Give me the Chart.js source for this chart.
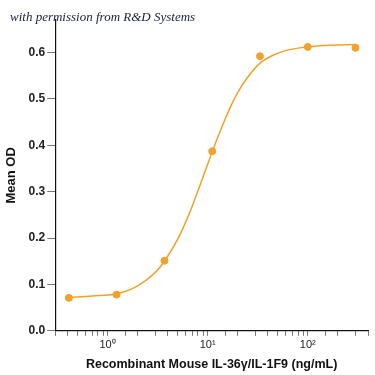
<!DOCTYPE html>
<html>
<head>
<meta charset="utf-8">
<script src="https://cdn.jsdelivr.net/npm/chart.js@4/dist/chart.umd.min.js"></script>
<style>
  html, body { margin: 0; padding: 0; background: #fff; }
  #wrap { width: 375px; height: 375px; }
</style>
</head>
<body>
<div id="wrap"><canvas id="odChart" width="375" height="375"></canvas></div>
<script>
// measured points (ng/mL vs mean OD)
const conc = [0.41, 1.23, 3.7, 11.1, 33.3, 100, 300];
const meanOD = [0.071, 0.078, 0.151, 0.387, 0.592, 0.612, 0.610];

// fitted curve
const fitX = [0.41, 0.7, 1.23, 2, 3, 3.7, 5, 6.5, 8, 10, 11.1, 12.5, 15, 16.6, 20, 25, 33, 45, 60, 100, 150, 300];
const fitY = [0.072, 0.075, 0.080, 0.097, 0.126, 0.150, 0.197, 0.251, 0.302, 0.359, 0.386, 0.415, 0.457, 0.479, 0.514, 0.546, 0.576, 0.594, 0.604, 0.612, 0.615, 0.617];

const xTickLabels = { 1: '10\u2070', 10: '10\u00b9', 100: '10\u00b2' };
const yTicks = [0, 0.1, 0.2, 0.3, 0.4, 0.5, 0.6];

const orange = '#f2a22a';
const font = "'Liberation Sans', Arial, sans-serif";

// attribution line top left
const creditLine = {
  id: 'creditLine',
  afterDraw(chart) {
    const c = chart.ctx;
    c.save();
    c.font = "italic 13px 'Liberation Serif', serif";
    c.fillStyle = '#1b1f3b';
    c.textBaseline = 'alphabetic';
    c.fillText('with permission from R&D Systems', 10, 21);
    c.restore();
  }
};

const ctx = document.getElementById('odChart').getContext('2d');
const chart = new Chart(ctx, {
  type: 'scatter',
  data: {
    datasets: [
      {
        label: 'fit',
        data: fitX.map((x, i) => ({ x: x, y: fitY[i] })),
        showLine: true,
        borderColor: orange,
        borderWidth: 1.5,
        pointRadius: 0,
        cubicInterpolationMode: 'monotone',
        fill: false
      },
      {
        label: 'Mean OD',
        data: conc.map((x, i) => ({ x: x, y: meanOD[i] })),
        showLine: false,
        backgroundColor: orange,
        borderColor: orange,
        pointRadius: 3.5
      }
    ]
  },
  options: {
    responsive: false,
    animation: false,
    layout: { padding: { left: 4, right: 7, top: 20, bottom: 3 } },
    plugins: {
      legend: { display: false },
      tooltip: { enabled: false }
    },
    scales: {
      x: {
        type: 'logarithmic',
        min: 0.3,
        max: 400,
        border: { display: true, color: '#111', width: 1.2 },
        grid: { drawOnChartArea: false, drawTicks: true, tickLength: 5, color: '#777' },
        ticks: {
          autoSkip: false,
          maxRotation: 0,
          color: '#222',
          font: { family: font, size: 11 },
          padding: 3,
          callback: (v) => xTickLabels[v] || ''
        },
        title: {
          display: true,
          text: 'Recombinant Mouse IL-36\u03b3/IL-1F9 (ng/mL)',
          color: '#111',
          font: { family: font, size: 12.5, weight: 'bold' },
          padding: { top: 2, bottom: 0 }
        }
      },
      y: {
        min: 0,
        max: 0.67,
        border: { display: true, color: '#111', width: 1.2 },
        grid: { drawOnChartArea: false, drawTicks: true, tickLength: 8, color: '#777' },
        afterBuildTicks: (scale) => {
          scale.ticks = yTicks.map((v) => ({ value: v }));
        },
        ticks: {
          color: '#222',
          font: { family: font, size: 12, weight: 'bold' },
          padding: 2,
          callback: (v) => v.toFixed(1)
        },
        title: {
          display: true,
          text: 'Mean OD',
          color: '#111',
          font: { family: font, size: 13, weight: 'bold' },
          padding: { top: 0, bottom: 7 }
        }
      }
    }
  },
  plugins: [creditLine]
});
</script>
</body>
</html>
